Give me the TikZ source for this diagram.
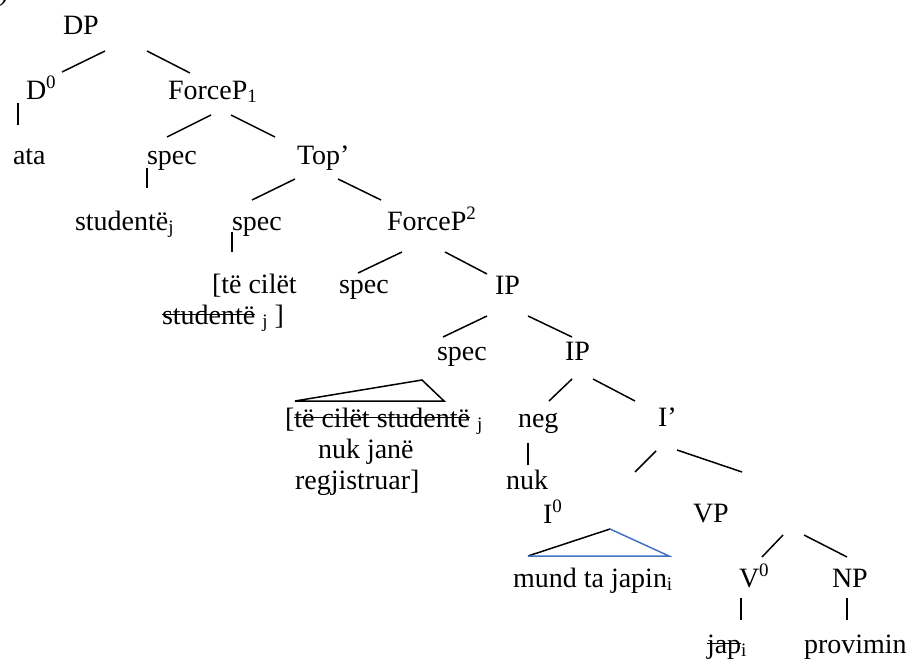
\documentclass[tikz,border=0pt]{standalone}
\usepackage{fontspec}
\setmainfont{Liberation Serif}
\definecolor{wordblue}{RGB}{68,114,196}
\newcommand{\strk}[1]{\begingroup\setbox0\hbox{#1}\rlap{\rule[0.32em]{\wd0}{1.4pt}}\box0\endgroup}
\newcommand{\supr}[1]{\raisebox{11pt}{\fontsize{19}{19}\selectfont #1}}
\newcommand{\subr}[1]{\raisebox{-3pt}{\fontsize{19}{19}\selectfont #1}}
\begin{document}
\begin{tikzpicture}[x=1pt,y=-1pt,
  lbl/.style={inner sep=0pt,outer sep=0pt,anchor=base west,font=\fontsize{28}{32}\selectfont},
  edge/.style={line width=1.5pt,line cap=butt}]
\useasboundingbox (0,0) rectangle (909,660);
% labels
\node[lbl] (paren) at (-1,1) {)};
\node[lbl] (DP) at (63,35) {DP};
\node[lbl] (D0) at (26,100) {D\supr{0}};
\node[lbl] (F1) at (168,100) {ForceP\subr{1}};
\node[lbl] (ata) at (13,165) {ata};
\node[lbl] (spec1) at (147,165) {spec};
\node[lbl] (Top) at (297,165) {Top’};
\node[lbl] (stud) at (75,230) {studentë\subr{j}};
\node[lbl] (spec2) at (232,230) {spec};
\node[lbl] (F2) at (387,230) {ForceP\supr{2}};
\node[lbl] (tec1) at (212,293) {[të cilët};
\node[lbl] (tec2) at (162,324) {\strk{studentë} \subr{j} ]};
\node[lbl] (spec3) at (339,293) {spec};
\node[lbl] (IP1) at (495,294) {IP};
\node[lbl] (spec4) at (437,360) {spec};
\node[lbl] (IP2) at (565,360) {IP};
\node[lbl] (cl1) at (285,427) {[\strk{të cilët studentë} \subr{j}};
\node[lbl] (cl2) at (318,458) {nuk janë};
\node[lbl] (cl3) at (295,489) {regjistruar]};
\node[lbl] (neg) at (518,427) {neg};
\node[lbl] (nuk) at (506,489) {nuk};
\node[lbl] (Ibar) at (658,426) {I’};
\node[lbl] (I0) at (543,523) {I\supr{0}};
\node[lbl] (VP) at (693,522) {VP};
\node[lbl] (mund) at (513,587) {mund ta japin\subr{i}};
\node[lbl] (V0) at (739,587) {V\supr{0}};
\node[lbl] (NP) at (832,587) {NP};
\node[lbl] (jap) at (707,653) {\strk{jap}\subr{i}};
\node[lbl] (prov) at (804,653) {provimin};
% connector end points
\coordinate (a1) at (105,51);  \coordinate (b1) at (62,72);
\coordinate (a2) at (147,51);  \coordinate (b2) at (190,73);
\coordinate (a3) at (18,103);  \coordinate (b3) at (18,125);
\coordinate (a4) at (211,115); \coordinate (b4) at (167,137);
\coordinate (a5) at (231,115); \coordinate (b5) at (275,137);
\coordinate (a6) at (147,168); \coordinate (b6) at (147,188);
\coordinate (a7) at (295,179); \coordinate (b7) at (252,200);
\coordinate (a8) at (338,179); \coordinate (b8) at (381,200);
\coordinate (a9) at (232,232); \coordinate (b9) at (232,252);
\coordinate (a10) at (402,252); \coordinate (b10) at (358,273);
\coordinate (a11) at (445,252); \coordinate (b11) at (487,274);
\coordinate (a12) at (487,316); \coordinate (b12) at (443,337);
\coordinate (a13) at (528,316); \coordinate (b13) at (572,337);
\coordinate (t1l) at (295,401); \coordinate (t1a) at (422,380); \coordinate (t1r) at (444,401);
\coordinate (a15) at (572,379); \coordinate (b15) at (549,401);
\coordinate (a16) at (593,379); \coordinate (b16) at (635,401);
\coordinate (a17) at (528,443); \coordinate (b17) at (528,465);
\coordinate (a18) at (656,451); \coordinate (b18) at (635,472);
\coordinate (a19) at (677,450); \coordinate (b19) at (742,472);
\coordinate (t2l) at (528,556); \coordinate (t2a) at (610,529); \coordinate (t2r) at (669,556);
\coordinate (a21) at (783,535); \coordinate (b21) at (762,557);
\coordinate (a22) at (804,535); \coordinate (b22) at (847,557);
\coordinate (a23) at (741,598); \coordinate (b23) at (741,620);
\coordinate (a24) at (847,598); \coordinate (b24) at (847,620);
% connectors
\foreach \i in {1,2,3,4,5,6,7,8,9,10,11,12,13,15,16,17,18,19,21,22,23,24}
  \draw[edge] (a\i) -- (b\i);
\draw[edge,line join=miter] (t1l) -- (t1a) -- (t1r) -- cycle;
\draw[edge] (t2l) -- (t2a);
\draw[edge,wordblue,line join=miter] (t2a) -- (t2r) -- (t2l);
\end{tikzpicture}
\end{document}
